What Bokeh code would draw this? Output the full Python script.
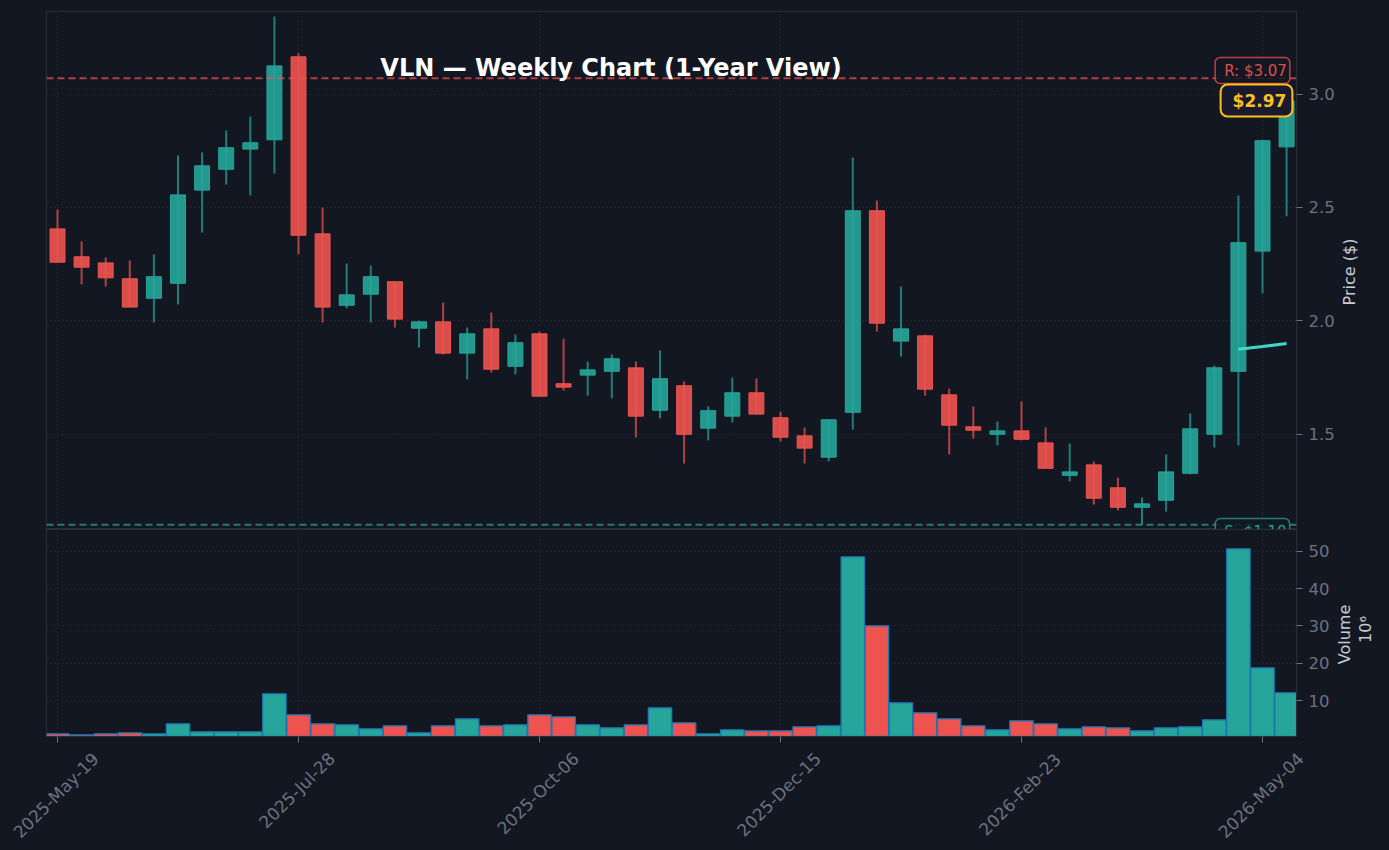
import math
from bokeh.embed import file_html
from bokeh.resources import INLINE
from bokeh.plotting import figure
from bokeh.layouts import column
from bokeh.models import ColumnDataSource, FixedTicker, Label, NumeralTickFormatter, Span

opens = [2.405,2.282,2.255,2.185,2.099,2.165,2.576,2.668,2.757,2.798,3.164,2.383,2.068,2.117,2.172,1.967,1.995,1.857,1.964,1.799,1.942,1.722,1.76,1.777,1.792,1.605,1.713,1.526,1.579,1.682,1.572,1.492,1.398,1.596,2.485,1.91,1.933,1.673,1.532,1.499,1.514,1.461,1.318,1.364,1.263,1.177,1.208,1.327,1.499,1.777,2.307,2.767]
highs = [2.49,2.349,2.279,2.265,2.292,2.729,2.742,2.839,2.901,3.342,3.18,2.499,2.252,2.243,2.172,2.001,2.08,1.97,2.036,1.939,1.952,1.921,1.82,1.851,1.82,1.869,1.732,1.622,1.749,1.745,1.599,1.529,1.563,2.72,2.53,2.151,1.939,1.701,1.622,1.555,1.644,1.529,1.458,1.379,1.308,1.22,1.41,1.591,1.802,2.552,2.798,3.0]
lows = [2.258,2.16,2.151,2.06,1.992,2.071,2.389,2.601,2.552,2.649,2.292,1.992,2.054,1.992,1.97,1.882,1.851,1.741,1.771,1.763,1.667,1.692,1.67,1.657,1.485,1.569,1.37,1.472,1.551,1.588,1.467,1.37,1.379,1.52,1.952,1.842,1.67,1.41,1.48,1.45,1.472,1.349,1.291,1.189,1.163,1.10,1.158,1.322,1.441,1.45,2.12,2.461]
closes = [2.258,2.236,2.189,2.06,2.194,2.555,2.683,2.763,2.785,3.124,2.377,2.06,2.114,2.194,2.007,1.995,1.857,1.942,1.786,1.903,1.667,1.707,1.783,1.832,1.579,1.744,1.499,1.603,1.682,1.588,1.486,1.438,1.563,2.485,1.989,1.964,1.698,1.539,1.517,1.514,1.477,1.349,1.333,1.217,1.177,1.192,1.333,1.523,1.792,2.344,2.794,2.97]
volumes = [1.17,0.9,1.17,1.44,1.17,3.85,1.7,1.7,1.7,11.87,6.25,3.85,3.58,2.5,3.31,1.44,3.31,5.18,3.31,3.58,6.25,5.72,3.58,2.78,3.58,8.12,4.11,1.17,2.24,1.97,1.97,3.04,3.31,48.5,30.05,9.46,6.79,5.18,3.31,2.24,4.65,3.85,2.5,3.04,2.78,1.97,2.78,3.04,4.92,50.64,18.8,12.13]
sma_index = [49,50,51]
sma_values = [1.874,1.886,1.899]
tick_index = [0,10,20,30,40,50]
tick_labels = ["2025-May-19","2025-Jul-28","2025-Oct-06","2025-Dec-15","2026-Feb-23","2026-May-04"]
price_ticks = [1.5,2.0,2.5,3.0]
volume_ticks = [10,20,30,40,50]
resistance = 3.07
support = 1.10
last_price = 2.97
title_text = "VLN — Weekly Chart (1-Year View)"

BG="#131722"; UP="#26a69a"; DOWN="#ef5350"; EDGE="#1f77b4"; SPINE="#2a2e39"; TICKC="#6b7280"; LABC="#c9ccd3"; GRID="#2a2e39"; CY="#40e0d0"; GOLD="#fbbf24"
FONT="DejaVu Sans"

def xd(px): return (px-57)/24.1
def pd_(py): return 3.0-(py-93.5)/226.7
def vd(py): return 0.45+(736-py)/3.74

xr=(xd(46),xd(1296))
idx=list(range(len(opens)))
colors=[UP if c>=o else DOWN for o,c in zip(opens,closes)]
src=ColumnDataSource(dict(x=idx,o=opens,h=highs,l=lows,c=closes,top=[max(a,b) for a,b in zip(opens,closes)],bot=[min(a,b) for a,b in zip(opens,closes)],col=colors,v=volumes))

def style(p):
    p.background_fill_color=BG; p.border_fill_color=BG
    p.outline_line_color=SPINE; p.outline_line_width=1.2
    for g in (p.xgrid,p.ygrid):
        g.grid_line_color=GRID; g.grid_line_dash=[1,3]; g.grid_line_width=1; g.grid_line_alpha=1
    p.xgrid.ticker=FixedTicker(ticks=tick_index)
    p.yaxis.axis_line_color=SPINE
    p.yaxis.major_tick_line_color=TICKC; p.yaxis.major_tick_out=6; p.yaxis.major_tick_in=0
    p.yaxis.minor_tick_line_color=None
    p.yaxis.major_label_text_color=TICKC; p.yaxis.major_label_text_font=FONT; p.yaxis.major_label_text_font_size="16.5px"
    p.yaxis.major_label_standoff=6

def side_label(p,text,x,y,angle,color,size,side):
    # text outside the frame: placed on the canvas from a side panel
    p.add_layout(Label(x=x,y=y,x_units="canvas",y_units="canvas",text=text,angle=angle,text_color=color,text_font=FONT,text_font_size=size,text_align="center",text_baseline="middle"),side)

p1=figure(width=1389,height=529,frame_width=1250,frame_height=518,output_backend="svg",toolbar_location=None,x_range=xr,y_range=(pd_(529),pd_(11)),y_axis_location="right",
          min_border_left=46,min_border_right=93,min_border_top=11,min_border_bottom=0)
style(p1)
p1.xaxis.visible=False
p1.yaxis.ticker=FixedTicker(ticks=price_ticks)
p1.yaxis.formatter=NumeralTickFormatter(format="0.0")
p1.segment("x","h","x","l",source=src,color="col",line_width=2,line_alpha=0.72)
p1.vbar(x="x",top="top",bottom="bot",width=0.62,source=src,fill_color="col",fill_alpha=0.9,line_color="col",line_alpha=1,line_width=1)
p1.line(sma_index,sma_values,line_color=CY,line_width=3,line_alpha=0.95)
p1.add_layout(Span(location=resistance,dimension="width",line_color=DOWN,line_dash=[7,4],line_width=2,line_alpha=0.7))
p1.add_layout(Span(location=support,dimension="width",line_color=UP,line_dash=[7,4],line_width=2,line_alpha=0.7))
p1.add_layout(Label(x=xd(610.5),y=pd_(67),text=title_text,text_color="#ffffff",text_font=FONT,text_font_style="bold",text_font_size="24px",text_align="center",text_baseline="middle"))
p1.add_layout(Label(x=xd(1252),y=pd_(70),text="R: $3.07",text_color=DOWN,text_font=FONT,text_font_size="15px",text_align="center",text_baseline="middle",text_alpha=0.95,
    background_fill_color=BG,background_fill_alpha=0.85,border_line_color=DOWN,border_line_alpha=0.75,border_line_width=1.5,padding=(9,3,4,4),border_radius=5))
p1.add_layout(Label(x=xd(1252),y=pd_(531),text="S: $1.10",text_color=UP,text_font=FONT,text_font_size="15px",text_align="center",text_baseline="middle",text_alpha=0.95,
    background_fill_color=BG,background_fill_alpha=0.85,border_line_color=UP,border_line_alpha=0.75,border_line_width=1.5,padding=(9,3,4,4),border_radius=5))
p1.add_layout(Label(x=xd(1256),y=pd_(100),text=f"${last_price:.2f}",text_color=GOLD,text_font=FONT,text_font_style="bold",text_font_size="17px",text_align="center",text_baseline="middle",
    background_fill_color="#1a1a2e",background_fill_alpha=1,border_line_color=GOLD,border_line_width=2,padding=(12,6,6,6),border_radius=7))
side_label(p1,"Price ($)",1349,271.5,math.pi/2,LABC,"16px","right")

p2=figure(width=1389,height=321,frame_width=1250,frame_height=207,output_backend="svg",toolbar_location=None,x_range=xr,y_range=(vd(736),vd(529)),y_axis_location="right",
          min_border_left=46,min_border_right=93,min_border_top=0,min_border_bottom=114)
style(p2)
p2.yaxis.ticker=FixedTicker(ticks=volume_ticks)
p2.xaxis.ticker=FixedTicker(ticks=tick_index)
p2.xaxis.major_label_overrides={t:"" for t in tick_index}
p2.xaxis.axis_line_color=SPINE
p2.xaxis.major_tick_line_color=TICKC; p2.xaxis.major_tick_out=6; p2.xaxis.major_tick_in=0; p2.xaxis.minor_tick_line_color=None
p2.vbar(x="x",top="v",bottom=0,width=0.97,source=src,fill_color="col",line_color=EDGE,line_width=1.3)
tick_py=[266,261,264,265,265,266]
for t,lab,cy in zip(tick_index,tick_labels,tick_py):
    side_label(p2,lab,57+24.1*t-1.5,cy,math.pi/4,TICKC,"17px","below")
side_label(p2,"Volume",1344,105,math.pi/2,LABC,"16px","below")
side_label(p2,"10⁶",1365,100,math.pi/2,LABC,"16px","below")

layout=column(p1,p2,spacing=0)
html=file_html(layout,INLINE).replace("<body>",'<body style="background:#131722;overflow:hidden">')
open("out.html","w").write(html)
